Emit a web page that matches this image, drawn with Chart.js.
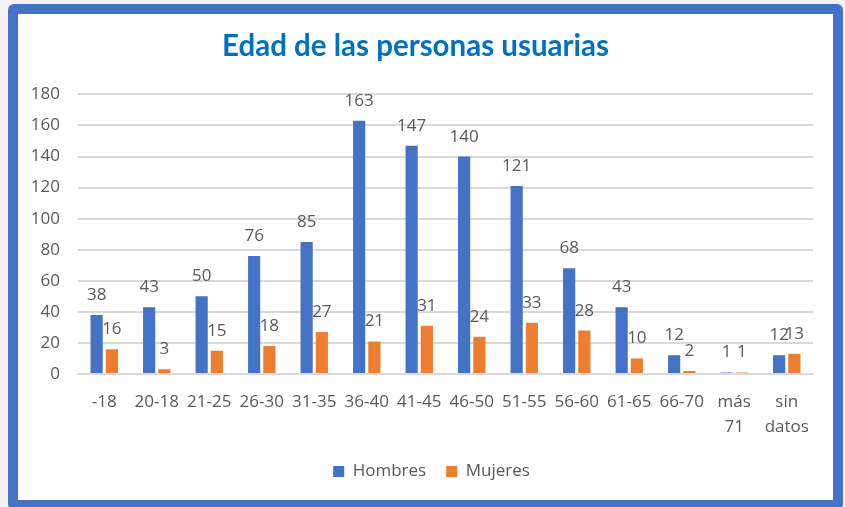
<!DOCTYPE html>
<html>
<head>
<meta charset="utf-8">
<script src="https://cdn.jsdelivr.net/npm/chart.js@4/dist/chart.umd.min.js"></script>
<style>
    body { margin: 0; background: #f2f2f2; overflow: hidden; }
    #frame {
        position: absolute; left: 8px; top: 4px;
        width: 815px; height: 486px;
        border: 10px solid #4472c4; border-radius: 6px;
        background: #fff;
    }
    canvas { display: block; }
</style>
</head>
<body>
<div id="frame"><canvas id="chart" width="815" height="486"></canvas></div>
<script>
const categories = ['-18', '20-18', '21-25', '26-30', '31-35', '36-40', '41-45', '46-50',
    '51-55', '56-60', '61-65', '66-70', ['más', '71'], ['sin', 'datos']];
const hombres = [38, 43, 50, 76, 85, 163, 147, 140, 121, 68, 43, 12, 1, 12];
const mujeres = [16, 3, 15, 18, 27, 21, 31, 24, 33, 28, 10, 2, 1, 13];
const yTicks = [0, 20, 40, 60, 80, 100, 120, 140, 160, 180];

const textColor = '#595959';
const fontFamily = '"Open Sans", sans-serif';

// values above each bar
const barLabels = {
    id: 'barLabels',
    afterDatasetsDraw(chart) {
        const ctx = chart.ctx;
        ctx.save();
        ctx.font = '17px ' + fontFamily;
        ctx.fillStyle = textColor;
        ctx.textAlign = 'center';
        ctx.textBaseline = 'alphabetic';
        chart.data.datasets.forEach((ds, i) => {
            chart.getDatasetMeta(i).data.forEach((bar, j) => {
                ctx.fillText(ds.data[j], bar.x, bar.y - 15);
            });
        });
        ctx.restore();
    }
};

// nudge the legend to sit where the original one is
const legendShift = {
    id: 'legendShift',
    afterLayout(chart) {
        chart.legend.left += 16;
        chart.legend.right += 16;
    }
};

new Chart(document.getElementById('chart'), {
    type: 'bar',
    data: {
        labels: categories,
        datasets: [
            { label: 'Hombres', data: hombres, backgroundColor: '#4472c4' },
            { label: 'Mujeres', data: mujeres, backgroundColor: '#ed7d31' },
        ],
    },
    options: {
        responsive: false,
        animation: false,
        categoryPercentage: 0.58,
        barPercentage: 0.8,
        layout: { padding: { left: 0, right: 20, top: 0, bottom: 10 } },
        plugins: {
            title: {
                display: true,
                text: 'Edad de las personas usuarias',
                color: '#0070c0',
                font: { family: 'Lato, sans-serif', size: 29.5, weight: 'bold', lineHeight: 1.2 },
                padding: { top: 15, bottom: 30 },
            },
            legend: {
                position: 'bottom',
                labels: {
                    color: textColor,
                    font: { family: fontFamily, size: 17 },
                    boxWidth: 11,
                    boxHeight: 11,
                    padding: 20,
                },
            },
            tooltip: { enabled: false },
        },
        scales: {
            x: {
                grid: { display: false, drawTicks: false },
                border: { color: '#d9d9d9', width: 2 },
                ticks: {
                    color: textColor,
                    font: { family: fontFamily, size: 17, lineHeight: 1.5 },
                    padding: 15,
                    maxRotation: 0,
                    autoSkip: false,
                },
                afterFit: (scale) => { scale.height = 69; },
            },
            y: {
                min: 0,
                max: 180,
                afterBuildTicks: (scale) => { scale.ticks = yTicks.map(v => ({ value: v })); },
                grid: { color: '#d9d9d9', lineWidth: 2, drawTicks: false },
                border: { display: false },
                ticks: {
                    color: textColor,
                    font: { family: fontFamily, size: 17 },
                    padding: 18,
                },
                afterFit: (scale) => { scale.width = 60; },
            },
        },
    },
    plugins: [barLabels, legendShift],
});
</script>
</body>
</html>
